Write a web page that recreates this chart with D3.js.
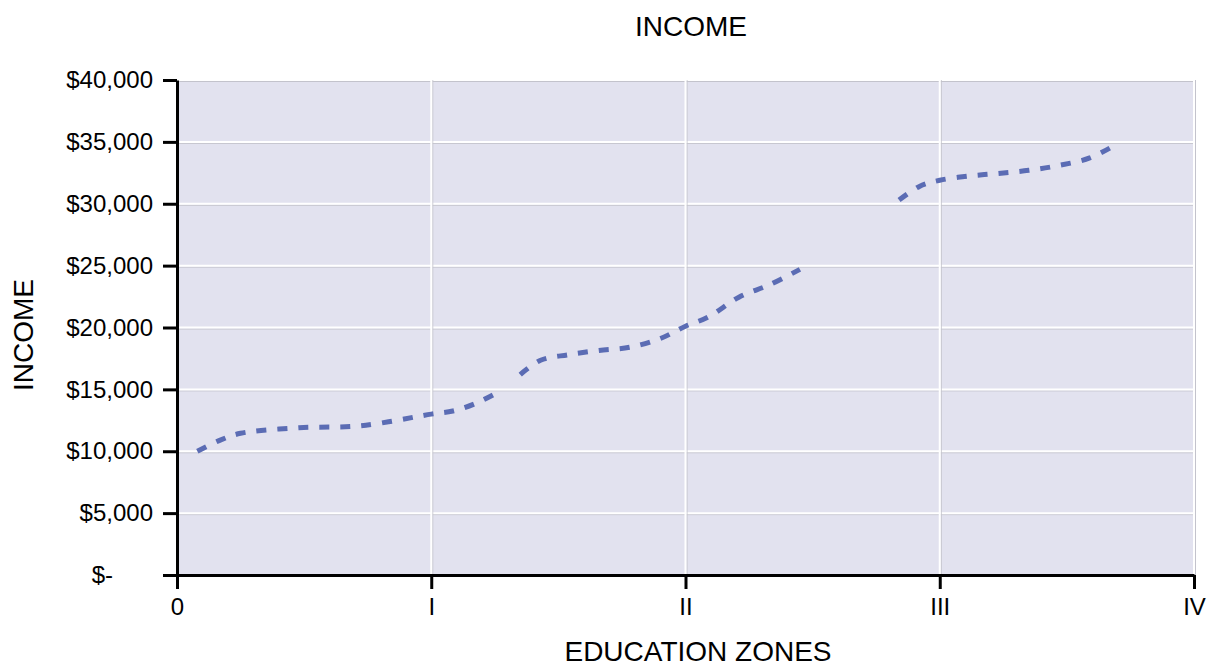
<!DOCTYPE html>
<html>
<head>
<meta charset="utf-8">
<script src="https://cdn.jsdelivr.net/npm/d3@7"></script>
<style>
  body { margin: 0; background: #fff; }
  text { font-family: "Liberation Sans", Arial, Helvetica, sans-serif; fill: #000; }
</style>
</head>
<body>
<div id="chart"></div>
<script>
// DATA
const zoneLabels = ["0", "I", "II", "III", "IV"];
const incomeTicks = [0, 5000, 10000, 15000, 20000, 25000, 30000, 35000, 40000];

// three pieces of the income curve, x in education zones
const segmentA = [
  {x: 0.08, y: 10000}, {x: 0.17, y: 10900}, {x: 0.25, y: 11450},
  {x: 0.48, y: 11900}, {x: 0.72, y: 12050}, {x: 1.00, y: 13000},
  {x: 1.085, y: 13250}, {x: 1.17, y: 13820}, {x: 1.27, y: 14850}
];
const segmentB = [
  {x: 1.35, y: 16200}, {x: 1.43, y: 17350}, {x: 1.54, y: 17800},
  {x: 1.66, y: 18150}, {x: 1.78, y: 18400}, {x: 1.90, y: 19100},
  {x: 2.00, y: 20100}, {x: 2.09, y: 20850}, {x: 2.21, y: 22450},
  {x: 2.33, y: 23450}, {x: 2.45, y: 24700}
];
const segmentC = [
  {x: 2.84, y: 30300}, {x: 2.92, y: 31400}, {x: 3.00, y: 31900},
  {x: 3.12, y: 32250}, {x: 3.23, y: 32450}, {x: 3.35, y: 32700},
  {x: 3.47, y: 33100}, {x: 3.59, y: 33700}, {x: 3.69, y: 34750}
];

const width = 1211;
const height = 667;
const margin = {top: 80, left: 177, right: 17, bottom: 92};

const svg = d3.select("#chart")
  .append("svg")
  .attr("width", width)
  .attr("height", height);

const xScale = d3.scaleLinear()
  .domain([0, 4])
  .range([margin.left, width - margin.right]);
const yScale = d3.scaleLinear()
  .domain([0, 40000])
  .range([height - margin.bottom, margin.top]);

// plot background
svg.append("rect")
  .attr("x", xScale(0))
  .attr("y", yScale(40000))
  .attr("width", xScale(4) - xScale(0))
  .attr("height", yScale(0) - yScale(40000))
  .attr("fill", "#e2e2ef");

// grid: grey shadow + white line
const grid = svg.append("g");
incomeTicks.slice(1).forEach(v => {
  grid.append("line")
    .attr("x1", xScale(0)).attr("x2", xScale(4))
    .attr("y1", yScale(v) + 1.5).attr("y2", yScale(v) + 1.5)
    .attr("stroke", "#c3c3cc").attr("stroke-width", 1);
  grid.append("line")
    .attr("x1", xScale(0)).attr("x2", xScale(4))
    .attr("y1", yScale(v)).attr("y2", yScale(v))
    .attr("stroke", "#fff").attr("stroke-width", 2);
});
[1, 2, 3, 4].forEach(v => {
  grid.append("line")
    .attr("x1", xScale(v) + 1.5).attr("x2", xScale(v) + 1.5)
    .attr("y1", yScale(40000)).attr("y2", yScale(0))
    .attr("stroke", "#c3c3cc").attr("stroke-width", 1);
  grid.append("line")
    .attr("x1", xScale(v)).attr("x2", xScale(v))
    .attr("y1", yScale(40000)).attr("y2", yScale(0))
    .attr("stroke", "#fff").attr("stroke-width", 2);
});

// the dashed curve
const lineFunction = d3.line()
  .x(d => xScale(d.x))
  .y(d => yScale(d.y))
  .curve(d3.curveCatmullRom.alpha(0.5));

[segmentA, segmentB, segmentC].forEach(seg => {
  svg.append("path")
    .attr("d", lineFunction(seg))
    .attr("fill", "none")
    .attr("stroke", "#5b6cb4")
    .attr("stroke-width", 5)
    .attr("stroke-dasharray", "10,11");
});

// axes
const yAxis = d3.axisLeft(yScale)
  .tickValues(incomeTicks)
  .tickSize(14)
  .tickSizeOuter(0)
  .tickPadding(10)
  .tickFormat(d => d === 0 ? "$-" : "$" + d3.format(",")(d));

const gy = svg.append("g")
  .attr("transform", "translate(" + xScale(0) + ",0)")
  .call(yAxis);

const xAxis = d3.axisBottom(xScale)
  .tickValues([0, 1, 2, 3, 4])
  .tickSize(14)
  .tickSizeOuter(0)
  .tickPadding(9)
  .tickFormat(d => zoneLabels[d]);

const gx = svg.append("g")
  .attr("transform", "translate(0," + yScale(0) + ")")
  .call(xAxis);

[gx, gy].forEach(g => {
  g.select(".domain").attr("stroke", "#000").attr("stroke-width", 3);
  g.selectAll(".tick line").attr("stroke", "#000").attr("stroke-width", 3);
  g.selectAll(".tick text").style("font-size", "24px").attr("fill", "#000");
});
// accounting-style zero label sits further left
gy.selectAll(".tick text").filter(d => d === 0).attr("dx", "-40");

// titles
svg.append("text")
  .attr("x", 691)
  .attr("y", 36)
  .attr("text-anchor", "middle")
  .style("font-size", "28px")
  .text("INCOME");

svg.append("text")
  .attr("x", 698)
  .attr("y", 661)
  .attr("text-anchor", "middle")
  .style("font-size", "28px")
  .text("EDUCATION ZONES");

svg.append("text")
  .attr("transform", "translate(33,335) rotate(-90)")
  .attr("text-anchor", "middle")
  .style("font-size", "28px")
  .text("INCOME");
</script>
</body>
</html>
